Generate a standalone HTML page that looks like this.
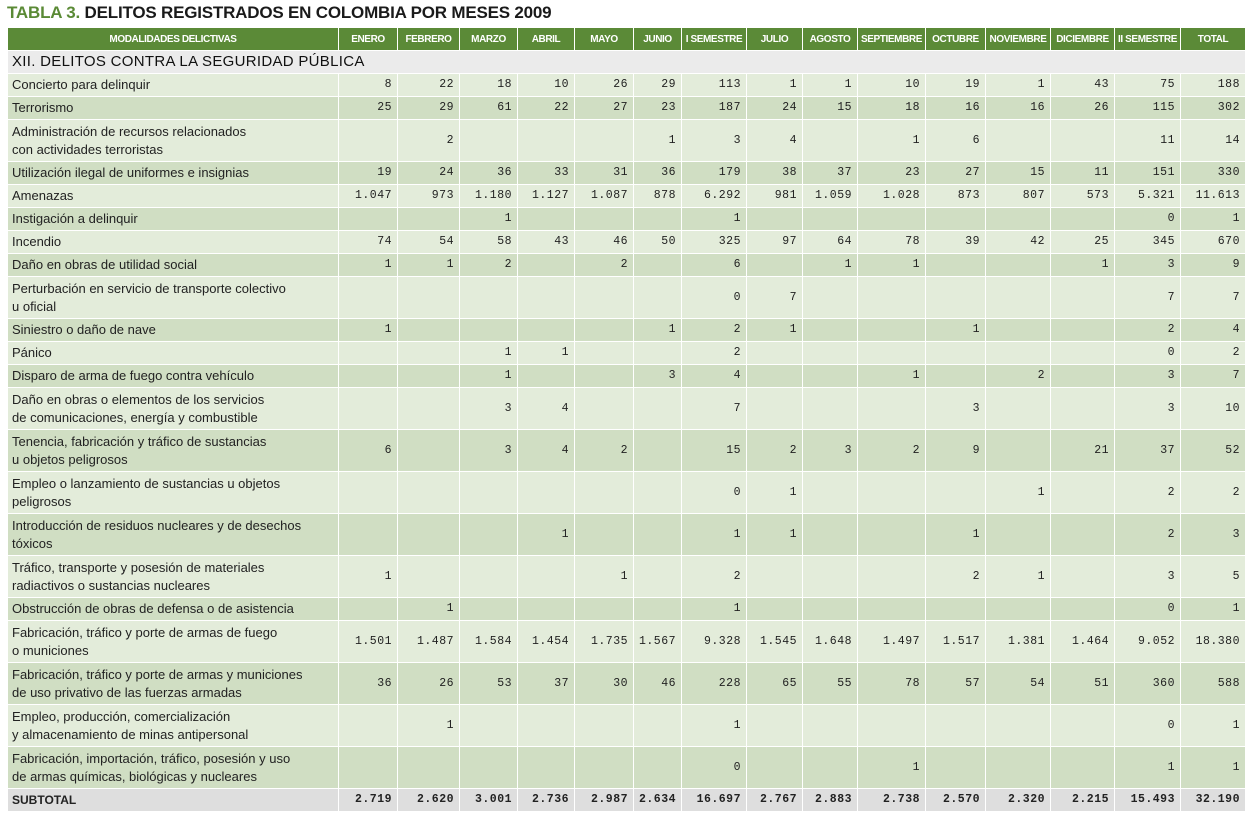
<!DOCTYPE html>
<html><head><meta charset="utf-8">
<style>
body{margin:0;background:#fff;width:1251px;height:816px;overflow:hidden;position:relative;font-family:"Liberation Sans",sans-serif}
#title{position:absolute;left:7px;top:3px;font-size:17px;font-weight:bold;color:#1a1a1a;letter-spacing:-0.2px}
#title span{color:#5a8a35}
table{position:absolute;left:7px;top:27px;width:1238px;border-collapse:collapse;table-layout:fixed}
td,th{border:1px solid #fff;padding:0 6px 0 4px;box-sizing:border-box;overflow:hidden;white-space:nowrap}
th{background:#5b8a37;color:#fff;font-family:"Liberation Sans Narrow","Liberation Sans",sans-serif;font-size:10px;font-weight:bold;height:23px;text-align:center;letter-spacing:-0.4px;padding:0 1px}
td{font-size:13px;color:#222;height:23px;line-height:18px}
td.n{text-align:right;font-family:"Liberation Mono",monospace;font-size:11.5px;letter-spacing:0.5px;padding-right:5px}
tr.l td{background:#e3ecda}
tr.d td{background:#d0dec3}
tr.two td{height:42px}
tr.sec td{background:#ebebeb;font-size:15px;letter-spacing:0.3px;color:#111}
tr.sub td{background:#dedede;font-weight:bold;font-size:12px}
tr.sub td.n{font-weight:bold;font-size:11.5px}
</style></head><body>
<div id="title"><span>TABLA 3.</span> DELITOS REGISTRADOS EN COLOMBIA POR MESES 2009</div>
<table id="t">
<colgroup><col style="width:331px"></colgroup>
</table>
<script>
const headers=["MODALIDADES DELICTIVAS","ENERO","FEBRERO","MARZO","ABRIL","MAYO","JUNIO","I SEMESTRE","JULIO","AGOSTO","SEPTIEMBRE","OCTUBRE","NOVIEMBRE","DICIEMBRE","II SEMESTRE","TOTAL"];
const colWidths=[59,62,58,57,59,48,65,56,55,68,60,65,64,66,65];
const labels=[
"Concierto para delinquir","Terrorismo","Administración de recursos relacionados<br>con actividades terroristas","Utilización ilegal de uniformes e insignias","Amenazas","Instigación a delinquir","Incendio","Daño en obras de utilidad social","Perturbación en servicio de transporte colectivo<br>u oficial","Siniestro o daño de nave","Pánico","Disparo de arma de fuego contra vehículo","Daño en obras o elementos de los servicios<br>de comunicaciones, energía y combustible","Tenencia, fabricación y tráfico de sustancias<br>u objetos peligrosos","Empleo o lanzamiento de sustancias u objetos<br>peligrosos","Introducción de residuos nucleares y de desechos<br>tóxicos","Tráfico, transporte y posesión de materiales<br>radiactivos o sustancias nucleares","Obstrucción de obras de defensa o de asistencia","Fabricación, tráfico y porte de armas de fuego<br>o municiones","Fabricación, tráfico y porte de armas y municiones<br>de uso privativo de las fuerzas armadas","Empleo, producción, comercialización<br>y almacenamiento de minas antipersonal","Fabricación, importación, tráfico, posesión y uso<br>de armas químicas, biológicas y nucleares"];
const values=[
[8,22,18,10,26,29,113,1,1,10,19,1,43,75,188],
[25,29,61,22,27,23,187,24,15,18,16,16,26,115,302],
["",2,"","","",1,3,4,"",1,6,"","",11,14],
[19,24,36,33,31,36,179,38,37,23,27,15,11,151,330],
["1.047",973,"1.180","1.127","1.087",878,"6.292",981,"1.059","1.028",873,807,573,"5.321","11.613"],
["","",1,"","","",1,"","","","","","",0,1],
[74,54,58,43,46,50,325,97,64,78,39,42,25,345,670],
[1,1,2,"",2,"",6,"",1,1,"","",1,3,9],
["","","","","","",0,7,"","","","","",7,7],
[1,"","","","",1,2,1,"","",1,"","",2,4],
["","",1,1,"","",2,"","","","","","",0,2],
["","",1,"","",3,4,"","",1,"",2,"",3,7],
["","",3,4,"","",7,"","","",3,"","",3,10],
[6,"",3,4,2,"",15,2,3,2,9,"",21,37,52],
["","","","","","",0,1,"","","",1,"",2,2],
["","","",1,"","",1,1,"","",1,"","",2,3],
[1,"","","",1,"",2,"","","",2,1,"",3,5],
["",1,"","","","",1,"","","","","","",0,1],
["1.501","1.487","1.584","1.454","1.735","1.567","9.328","1.545","1.648","1.497","1.517","1.381","1.464","9.052","18.380"],
[36,26,53,37,30,46,228,65,55,78,57,54,51,360,588],
["",1,"","","","",1,"","","","","","",0,1],
["","","","","","",0,"","",1,"","","",1,1]];
const subtotal=["2.719","2.620","3.001","2.736","2.987","2.634","16.697","2.767","2.883","2.738","2.570","2.320","2.215","15.493","32.190"];

const t=document.getElementById('t');
const cg=t.querySelector('colgroup');
colWidths.forEach(w=>{const c=document.createElement('col');c.style.width=w+'px';cg.appendChild(c);});
const hr=document.createElement('tr');


headers.forEach(h=>{const th=document.createElement('th');th.textContent=h;


hr.appendChild(th);});
t.appendChild(hr);
const sr=document.createElement('tr');sr.className='sec';


const sc=document.createElement('td');sc.colSpan=16;sc.textContent='XII. DELITOS CONTRA LA SEGURIDAD PÚBLICA';sr.appendChild(sc);t.appendChild(sr);
labels.forEach((lab,i)=>{
 const tr=document.createElement('tr');
 tr.className=(i%2?'d':'l')+(lab.includes('<br>')?' two':'');
 
 
 const td=document.createElement('td');td.innerHTML=lab;
 
 
 tr.appendChild(td);
 values[i].forEach(v=>{const c=document.createElement('td');c.className='n';c.textContent=v;
 
 
 tr.appendChild(c);});
 t.appendChild(tr);
});
const st=document.createElement('tr');st.className='sub';


const s0=document.createElement('td');s0.textContent='SUBTOTAL';st.appendChild(s0);
subtotal.forEach(v=>{const c=document.createElement('td');c.className='n';c.textContent=v;


st.appendChild(c);});
t.appendChild(st);
</script>
</body></html>
